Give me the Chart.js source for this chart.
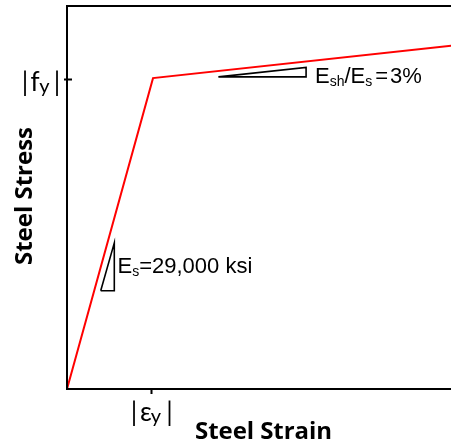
<!DOCTYPE html>
<html>
<head>
<meta charset="utf-8">
<script src="https://cdn.jsdelivr.net/npm/chart.js@4/dist/chart.umd.min.js"></script>
<style>
  html, body { margin: 0; padding: 0; background: #fff; }
  #wrap { width: 451px; height: 448px; }
</style>
</head>
<body>
<div id="wrap"><canvas id="c" width="451" height="448"></canvas></div>
<script>
// Bilinear steel model, strain normalised by eps_y and stress by f_y
const strain = [0, 1, 4.47];
const stress = [0, 1, 1.104];

// Slope markers (normalised units): elastic E_s and hardening E_sh = 3% E_s
const elasticTriX = [0.392, 0.55, 0.55, 0.392];
const elasticTriY = [0.316, 0.47, 0.316, 0.316];
const hardTriX = [1.76, 2.78, 2.78, 1.76];
const hardTriY = [1.004, 1.0346, 1.004, 1.004];

// Axis limits and tick positions
const xMax = 4.465;
const yMax = 1.232;
const yieldStrain = 1;
const yieldStress = 1;

const toPts = (xs, ys) => xs.map((x, i) => ({ x: x, y: ys[i] }));

const sans = '"Liberation Sans", Arial, sans-serif';
const hum = 'Lato, "Open Sans", sans-serif';
const boldTitle = 'bold 24px "Open Sans", Lato, sans-serif';

// Draws a run of text pieces (for subscripts) starting at x on baseline y
function drawRun(ctx, x, y, parts) {
  let cx = x;
  for (const p of parts) {
    ctx.font = p.font;
    ctx.fillText(p.t, cx, y + (p.dy || 0));
    cx += ctx.measureText(p.t).width + (p.gap || 0);
  }
}

// Draws pieces centred at given x positions on a shared baseline
function drawAt(ctx, y, parts) {
  ctx.textAlign = 'center';
  for (const p of parts) {
    ctx.font = p.font;
    ctx.fillText(p.t, p.x, y + (p.dy || 0));
  }
  ctx.textAlign = 'left';
}

// Bold axis title fitted to a given length
function drawTitle(ctx, text, x, y, len) {
  ctx.font = boldTitle;
  ctx.letterSpacing = '0px';
  const w = ctx.measureText(text).width;
  const sp = (len - w) / (text.length - 1);
  ctx.letterSpacing = sp.toFixed(2) + 'px';
  ctx.textAlign = 'left';
  ctx.fillText(text, x, y);
  ctx.letterSpacing = '0px';
}

const overlay = {
  id: 'overlay',
  afterDatasetsDraw(chart) {
    const ctx = chart.ctx;
    const a = chart.chartArea;
    const xs = chart.scales.x, ys = chart.scales.y;
    ctx.save();
    // frame: top, left and bottom
    ctx.strokeStyle = '#000';
    ctx.lineWidth = 2;
    ctx.beginPath();
    ctx.moveTo(a.right + 2, a.top);
    ctx.lineTo(a.left, a.top);
    ctx.lineTo(a.left, a.bottom);
    ctx.lineTo(a.right + 2, a.bottom);
    ctx.stroke();

    // tick marks at yield values
    const fyPx = ys.getPixelForValue(yieldStress) + 1.5;
    const eyPx = xs.getPixelForValue(yieldStrain) - 1.5;
    ctx.beginPath();
    ctx.moveTo(a.left - 3, fyPx);
    ctx.lineTo(a.left + 5, fyPx);
    ctx.moveTo(eyPx, a.bottom);
    ctx.lineTo(eyPx, a.bottom + 5);
    ctx.stroke();

    ctx.fillStyle = '#000';
    ctx.textBaseline = 'alphabetic';
    ctx.textAlign = 'left';

    // |f_y| label
    const big = '26px ' + hum, sub = '20px ' + hum;
    drawAt(ctx, fyPx + 11, [
      { t: '|', font: big, x: 25 },
      { t: 'f', font: big, x: 35 },
      { t: 'y', font: sub, x: 44.5, dy: 2 },
      { t: '|', font: big, x: 57 }
    ]);
    // |eps_y| label
    drawAt(ctx, a.bottom + 32, [
      { t: '|', font: big, x: eyPx - 17.5 },
      { t: 'ε', font: big, x: eyPx - 5.5 },
      { t: 'y', font: sub, x: eyPx + 4.5, dy: 2 },
      { t: '|', font: big, x: eyPx + 18 }
    ]);

    // elastic modulus annotation
    drawRun(ctx, 117.5, 273, [
      { t: 'E', font: '22px ' + sans },
      { t: 's', font: '14px ' + sans, dy: 3 },
      { t: '=29,000 ksi', font: '22px ' + sans }
    ]);
    // hardening modulus annotation
    drawRun(ctx, 315, 83, [
      { t: 'E', font: '22px ' + sans },
      { t: 'sh', font: '14px ' + sans, dy: 3 },
      { t: '/E', font: '22px ' + sans },
      { t: 's', font: '14px ' + sans, dy: 3, gap: 3 },
      { t: '=', font: '22px ' + sans, gap: 2 },
      { t: '3%', font: '22px ' + sans }
    ]);

    // axis titles
    drawTitle(ctx, 'Steel Strain', 195, 439, 137);
    ctx.save();
    ctx.translate(31.5, 265);
    ctx.rotate(-Math.PI / 2);
    drawTitle(ctx, 'Steel Stress', 0, 0, 138);
    ctx.restore();

    ctx.restore();
  }
};

new Chart(document.getElementById('c'), {
  type: 'scatter',
  data: {
    datasets: [
      {
        data: toPts(strain, stress),
        showLine: true,
        borderColor: '#ff0000',
        borderWidth: 2,
        pointRadius: 0,
        tension: 0
      },
      {
        data: toPts(elasticTriX, elasticTriY),
        showLine: true,
        borderColor: '#000',
        borderWidth: 1.6,
        pointRadius: 0,
        tension: 0
      },
      {
        data: toPts(hardTriX, hardTriY),
        showLine: true,
        borderColor: '#000',
        borderWidth: 1.6,
        pointRadius: 0,
        tension: 0
      }
    ]
  },
  options: {
    responsive: false,
    animation: false,
    layout: { padding: { left: 67, top: 6, right: 0, bottom: 59 } },
    plugins: { legend: { display: false }, tooltip: { enabled: false } },
    scales: {
      x: { type: 'linear', min: 0, max: xMax, display: false },
      y: { type: 'linear', min: 0, max: yMax, display: false }
    }
  },
  plugins: [overlay]
});
</script>
</body>
</html>
